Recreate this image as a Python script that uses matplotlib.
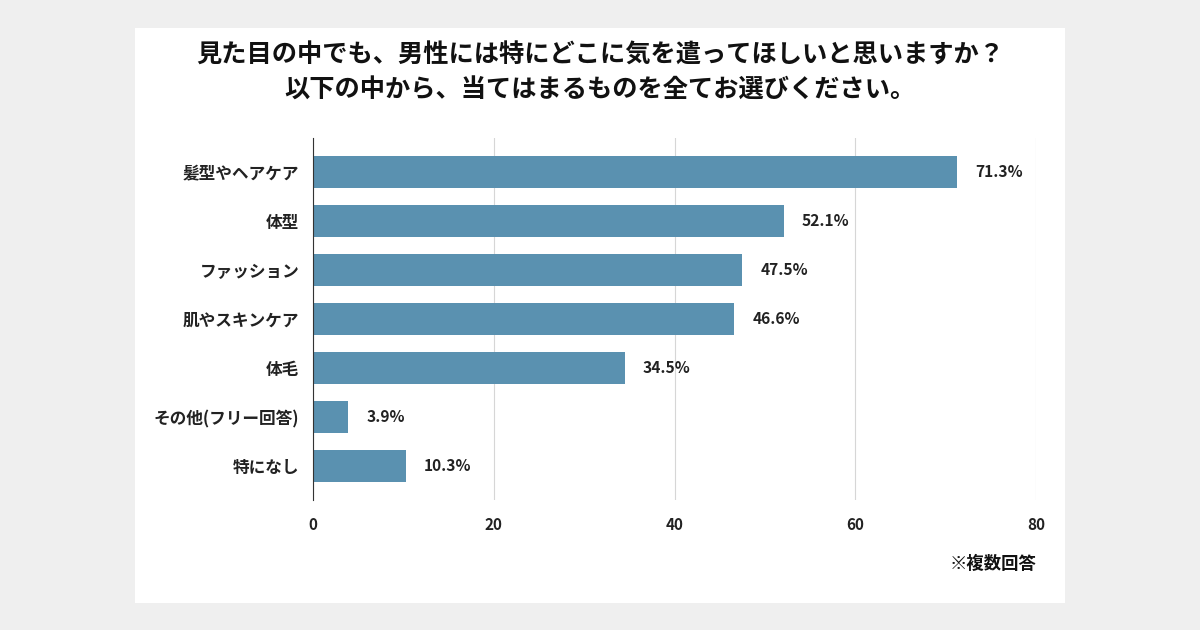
import matplotlib
matplotlib.use("Agg")
from matplotlib import pyplot as plt
from matplotlib.patches import Rectangle

plt.rcParams['font.family'] = ['Noto Sans CJK JP', 'DejaVu Sans']
plt.rcParams['font.weight'] = 'bold'

categories = ["髪型やヘアケア", "体型", "ファッション", "肌やスキンケア", "体毛", "その他(フリー回答)", "特になし"]
values = [71.3, 52.1, 47.5, 46.6, 34.5, 3.9, 10.3]
xticks = [0, 20, 40, 60, 80]
title = "見た目の中でも、男性には特にどこに気を遣ってほしいと思いますか？\n以下の中から、当てはまるものを全てお選びください。"
note = "※複数回答"

bar_color = "#5a91b0"

fig = plt.figure(figsize=(12, 6.3), dpi=100)
fig.patch.set_facecolor("#efefef")
# white card
fig.add_artist(Rectangle((135 / 1200, 1 - 603 / 630), 930 / 1200, 575 / 630,
                         transform=fig.transFigure, facecolor="white", edgecolor="none", zorder=0))

ax = fig.add_axes([313 / 1200, 1 - 500 / 630, 723 / 1200, 362 / 630])
ax.set_facecolor("none")
y = list(range(len(categories)))
ax.barh(y, values, height=0.65, color=bar_color, zorder=3)
for yi, v in zip(y, values):
    ax.text(v + 2.0, yi, f"{v}%", va="center", ha="left", fontsize=11.2, fontweight="bold", color="#222222")

ax.set_xlim(0, 80)
ax.set_ylim(len(categories) - 0.31, -0.69)
ax.set_xticks(xticks)
ax.set_xticklabels([str(t) for t in xticks], fontsize=11, fontweight="bold")
ax.set_yticks(y)
ax.set_yticklabels(categories, fontsize=12, fontweight="bold")
ax.tick_params(axis="both", length=0, colors="#222222")
ax.tick_params(axis="x", pad=12)
ax.tick_params(axis="y", pad=10)
ax.grid(axis="x", color="#d6d6d6", linewidth=0.8, zorder=0)
for s in ["top", "right", "bottom"]:
    ax.spines[s].set_visible(False)
ax.spines["left"].set_color("#333333")
ax.spines["left"].set_zorder(4)

fig.text(0.5, 1 - 73 / 630, title, ha="center", va="center", fontsize=18.2, fontweight="bold",
         linespacing=1.4, color="#111111")
fig.text(1036 / 1200, 1 - 564 / 630, note, ha="right", va="center", fontsize=12.5, fontweight="bold",
         color="#111111")

fig.savefig("out.png", dpi=100, facecolor=fig.get_facecolor())
